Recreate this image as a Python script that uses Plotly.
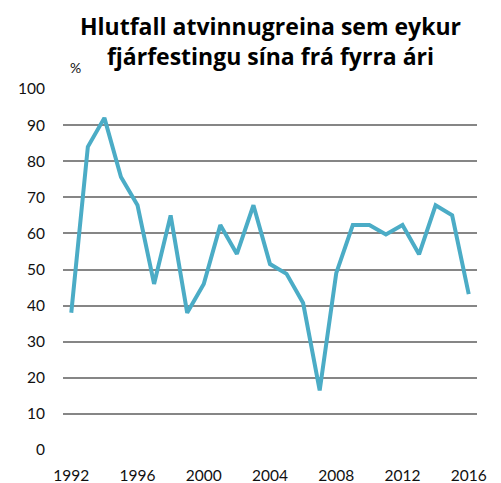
import plotly.graph_objects as go

years = list(range(1992, 2017))
values = [38, 84, 92, 75.6, 67.8, 46, 65, 38, 46, 62.3, 54.3, 67.8, 51.5, 48.8,
          40.7, 16.5, 49, 62.3, 62.3, 59.7, 62.3, 54.2, 67.8, 65, 43.2]
x_ticks = [1992, 1996, 2000, 2004, 2008, 2012, 2016]
y_ticks = list(range(0, 101, 10))

fig = go.Figure()
fig.add_trace(go.Scatter(x=years, y=values, mode="lines",
                         line=dict(color="#4BACC6", width=4),
                         hoverinfo="x+y", showlegend=False))

fig.update_layout(
    width=501, height=483,
    margin=dict(l=63, r=24, t=89, b=33),
    paper_bgcolor="white", plot_bgcolor="white",
    font=dict(family="Lato, Open Sans, sans-serif", size=15, color="#111111"),
    xaxis=dict(range=[1991.5, 2016.5], tickmode="array", tickvals=x_ticks,
               showgrid=False, zeroline=False, showline=False, automargin=False,
               ticks="", ticklabelstandoff=14, fixedrange=True,
               tickfont=dict(size=15.5)),
    yaxis=dict(range=[0, 100], tickmode="array", tickvals=y_ticks,
               showgrid=True, gridcolor="#868686", gridwidth=1.6, automargin=False,
               zeroline=False, showline=False, ticks="",
               ticklabelstandoff=17, fixedrange=True,
               tickfont=dict(size=15.5)),
    annotations=[
        dict(text="<b>Hlutfall atvinnugreina sem eykur<br>fjárfestingu sína frá fyrra ári</b>",
             xref="paper", yref="paper", x=0.5, y=1.225, xanchor="center", yanchor="top",
             showarrow=False, align="center",
             font=dict(family="Open Sans, sans-serif", size=23, color="#000000")),
        dict(text="%", xref="paper", yref="paper", x=0.03, y=1.03,
             xanchor="center", yanchor="bottom", showarrow=False,
             font=dict(size=14, color="#111111")),
    ],
)

fig.write_html("out.html", config={"displayModeBar": False},
               post_script="document.body.style.margin='0';")
